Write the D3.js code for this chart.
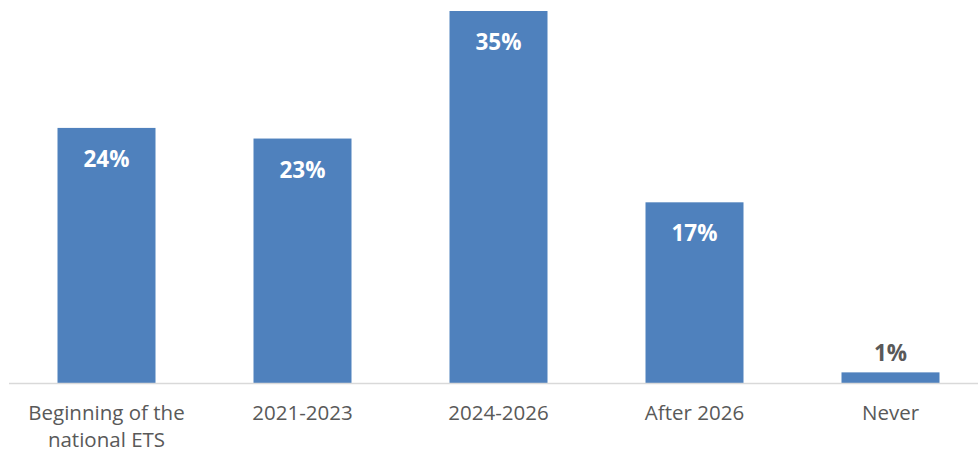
<!DOCTYPE html>
<html>
<head>
<meta charset="utf-8">
<script src="https://cdn.jsdelivr.net/npm/d3@7"></script>
<style>
  html, body { margin: 0; padding: 0; background: #ffffff; }
  svg { display: block; }
</style>
</head>
<body>
<svg id="chart" width="978" height="454"></svg>
<script>
// Timing categories (label lines) and share of respondents, in percent
const categories = [
  ["Beginning of the", "national ETS"],
  ["2021-2023"],
  ["2024-2026"],
  ["After 2026"],
  ["Never"]
];
const values = [24, 23, 35, 17, 1];

const width = 978, height = 454;
const baseY = 383, topY = 11;

const svg = d3.select("#chart");

const x = d3.scaleBand()
  .domain(d3.range(categories.length))
  .range([8.5, 988.5])
  .paddingInner(0.5)
  .paddingOuter(0.25);

const y = d3.scaleLinear()
  .domain([0, 35])
  .range([baseY, topY]);

// bars
svg.append("g").selectAll("rect")
  .data(values)
  .join("rect")
  .attr("x", (d, i) => x(i))
  .attr("y", d => y(d))
  .attr("width", x.bandwidth())
  .attr("height", d => baseY - y(d))
  .attr("fill", "#4F81BD");

// category axis line
svg.append("line")
  .attr("x1", 9).attr("x2", width)
  .attr("y1", baseY + 0.5).attr("y2", baseY + 0.5)
  .attr("stroke", "#D9D9D9")
  .attr("stroke-width", 1.5);

// value labels: inside tall bars, above short ones
const fontFamily = "'Open Sans', 'Noto Sans', sans-serif";
svg.append("g").selectAll("text")
  .data(values)
  .join("text")
  .attr("x", (d, i) => x(i) + x.bandwidth() / 2)
  .attr("y", d => (baseY - y(d) > 50) ? y(d) + 39 : y(d) - 11)
  .attr("text-anchor", "middle")
  .attr("font-family", fontFamily)
  .attr("font-weight", "bold")
  .attr("font-size", "22.5px")
  .attr("fill", d => (baseY - y(d) > 50) ? "#FFFFFF" : "#595959")
  .text(d => d + "%");

// category labels
const cat = svg.append("g").selectAll("text")
  .data(categories)
  .join("text")
  .attr("x", (d, i) => x(i) + x.bandwidth() / 2)
  .attr("y", 420)
  .attr("text-anchor", "middle")
  .attr("font-family", fontFamily)
  .attr("font-size", "20.5px")
  .attr("fill", "#595959");
cat.selectAll("tspan")
  .data(d => d)
  .join("tspan")
  .attr("x", function () { return this.parentNode.getAttribute("x"); })
  .attr("dy", (d, i) => i === 0 ? 0 : 27)
  .text(d => d);
</script>
</body>
</html>
